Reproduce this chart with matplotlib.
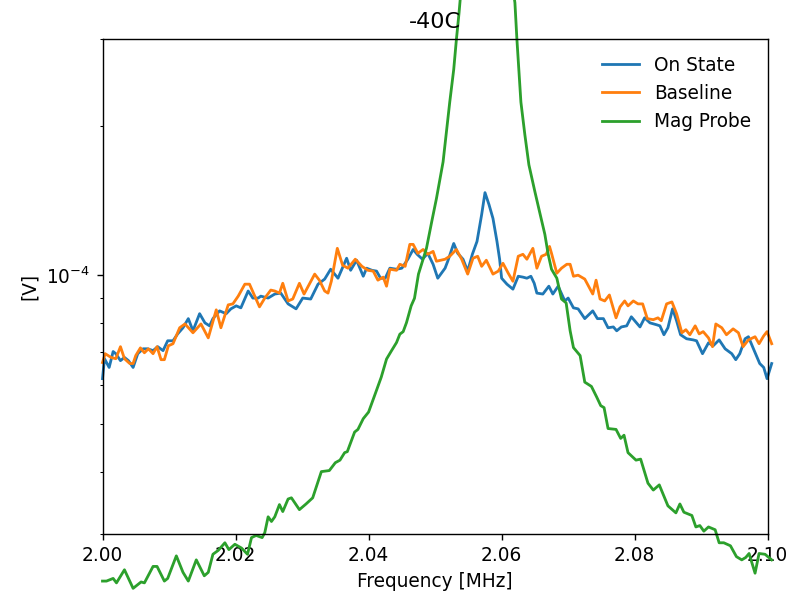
import matplotlib
matplotlib.use('Agg')
import matplotlib.pyplot as plt
import numpy as np
from matplotlib.ticker import NullFormatter

# frequency [MHz] and amplitude (in units of 1e-5 V)
on_freq = [2.0000, 2.0003, 2.0010, 2.0016, 2.0020, 2.0027, 2.0033, 2.0039, 2.0046, 2.0053,
           2.0061, 2.0068, 2.0076, 2.0083, 2.0091, 2.0098, 2.0106, 2.0113, 2.0121, 2.0129,
           2.0136, 2.0146, 2.0154, 2.0161, 2.0166, 2.0176, 2.0186, 2.0193, 2.0201, 2.0208,
           2.0219, 2.0226, 2.0234, 2.0238, 2.0249, 2.0259, 2.0268, 2.0279, 2.0291, 2.0301,
           2.0313, 2.0324, 2.0334, 2.0343, 2.0354, 2.0367, 2.0373, 2.0382, 2.0392, 2.0397,
           2.0405, 2.0412, 2.0418, 2.0425, 2.0432, 2.0442, 2.0450, 2.0459, 2.0467, 2.0473,
           2.0481, 2.0489, 2.0497, 2.0504, 2.0515, 2.0519, 2.0528, 2.0534, 2.0542, 2.0549,
           2.0556, 2.0563, 2.0570, 2.0575, 2.0581, 2.0587, 2.0593, 2.0597, 2.0600, 2.0608,
           2.0617, 2.0625, 2.0632, 2.0638, 2.0644, 2.0649, 2.0653, 2.0662, 2.0671, 2.0677,
           2.0685, 2.0695, 2.0700, 2.0708, 2.0715, 2.0725, 2.0737, 2.0744, 2.0753, 2.0760,
           2.0768, 2.0773, 2.0780, 2.0788, 2.0795, 2.0808, 2.0815, 2.0823, 2.0833, 2.0838,
           2.0844, 2.0850, 2.0857, 2.0863, 2.0869, 2.0878, 2.0888, 2.0893, 2.0902, 2.0911,
           2.0918, 2.0927, 2.0936, 2.0946, 2.0952, 2.0958, 2.0966, 2.0971, 2.0978, 2.0988,
           2.0994, 2.0999, 2.1006]
on_vals = [6.18, 6.78, 6.51, 7.01, 6.94, 6.72, 6.82, 6.72, 6.51, 6.94,
           7.10, 7.10, 7.04, 7.17, 7.04, 7.37, 7.37, 7.61, 7.83, 8.17,
           7.72, 8.36, 8.01, 7.90, 8.17, 8.47, 8.36, 8.55, 8.67, 8.59,
           9.29, 8.99, 8.99, 9.07, 8.99, 9.16, 9.20, 8.75, 8.55, 8.99,
           8.95, 9.59, 9.82, 10.28, 9.86, 10.82, 10.23, 10.72, 9.95, 10.33,
           10.23, 10.19, 9.86, 9.86, 10.33, 10.28, 10.33, 10.77, 11.27, 11.02,
           10.77, 11.07, 10.52, 9.86, 10.33, 10.67, 11.59, 11.07, 10.77, 10.19,
           11.02, 11.70, 13.26, 14.68, 13.89, 13.02, 11.70, 10.77, 9.86, 9.59,
           9.37, 9.95, 9.91, 9.86, 9.95, 9.63, 9.20, 9.16, 9.50, 9.16,
           9.50, 8.87, 8.99, 8.59, 8.55, 8.17, 8.47, 8.17, 8.17, 7.83,
           7.86, 7.72, 7.86, 7.90, 8.24, 7.86, 8.20, 8.01, 7.94, 7.90,
           7.58, 7.83, 8.55, 8.09, 7.58, 7.44, 7.40, 7.37, 6.94, 7.30,
           7.20, 7.40, 7.10, 6.94, 6.75, 6.94, 7.44, 7.51, 7.13, 6.63,
           6.51, 6.18, 6.63]

base_freq = [2.0000, 2.0004, 2.0013, 2.0020, 2.0027, 2.0033, 2.0041, 2.0046, 2.0050, 2.0057,
             2.0063, 2.0069, 2.0076, 2.0082, 2.0088, 2.0093, 2.0099, 2.0106, 2.0116, 2.0124,
             2.0136, 2.0148, 2.0159, 2.0171, 2.0178, 2.0189, 2.0196, 2.0204, 2.0214, 2.0221,
             2.0236, 2.0244, 2.0253, 2.0259, 2.0266, 2.0271, 2.0279, 2.0286, 2.0296, 2.0303,
             2.0319, 2.0326, 2.0334, 2.0339, 2.0344, 2.0353, 2.0361, 2.0369, 2.0380, 2.0390,
             2.0399, 2.0407, 2.0414, 2.0422, 2.0427, 2.0432, 2.0442, 2.0447, 2.0455, 2.0462,
             2.0467, 2.0474, 2.0482, 2.0489, 2.0497, 2.0502, 2.0515, 2.0522, 2.0532, 2.0540,
             2.0549, 2.0557, 2.0564, 2.0570, 2.0577, 2.0587, 2.0595, 2.0602, 2.0610, 2.0617,
             2.0625, 2.0632, 2.0638, 2.0647, 2.0653, 2.0660, 2.0667, 2.0672, 2.0675, 2.0683,
             2.0690, 2.0698, 2.0703, 2.0708, 2.0715, 2.0725, 2.0737, 2.0742, 2.0748, 2.0755,
             2.0762, 2.0772, 2.0778, 2.0785, 2.0790, 2.0798, 2.0805, 2.0812, 2.0819, 2.0828,
             2.0835, 2.0840, 2.0848, 2.0856, 2.0863, 2.0871, 2.0877, 2.0883, 2.0891, 2.0897,
             2.0903, 2.0911, 2.0917, 2.0922, 2.0931, 2.0938, 2.0948, 2.0956, 2.0963, 2.0971,
             2.0981, 2.0987, 2.0994, 2.0999, 2.1006]
base_vals = [6.66, 6.94, 6.82, 6.78, 7.17, 6.78, 6.63, 6.63, 6.88, 7.13,
             6.97, 7.10, 6.94, 7.17, 6.75, 6.75, 7.20, 7.27, 7.83, 7.97,
             7.65, 7.97, 7.47, 8.51, 7.83, 8.71, 8.75, 9.07, 9.59, 9.59,
             8.63, 8.99, 9.33, 9.29, 9.20, 9.63, 8.87, 8.95, 9.63, 9.16,
             10.05, 9.77, 9.29, 9.20, 9.72, 11.33, 10.47, 10.33, 10.77, 10.42,
             10.23, 10.19, 9.77, 9.91, 9.50, 10.28, 10.23, 10.52, 10.42, 11.54,
             11.54, 11.07, 11.27, 11.02, 11.17, 10.67, 10.77, 10.92, 11.27, 10.77,
             10.05, 10.82, 10.92, 10.42, 10.72, 10.05, 10.19, 10.57, 10.09, 9.72,
             10.92, 11.02, 10.77, 11.33, 10.33, 10.92, 11.02, 11.43, 11.07, 10.09,
             10.33, 10.52, 10.52, 9.95, 10.00, 9.82, 9.16, 9.77, 8.95, 8.87,
             9.12, 8.20, 8.63, 8.87, 8.67, 8.87, 8.75, 8.75, 8.17, 8.13,
             8.20, 8.09, 8.75, 8.83, 8.36, 7.65, 7.76, 7.58, 7.90, 7.61,
             7.69, 7.47, 7.17, 7.97, 7.83, 7.58, 7.79, 7.65, 7.17, 7.40,
             7.51, 7.27, 7.54, 7.69, 7.27]

mag_freq = [2.0000, 2.0006, 2.0016, 2.0021, 2.0033, 2.0046, 2.0058, 2.0063, 2.0076, 2.0082,
            2.0093, 2.0098, 2.0111, 2.0121, 2.0129, 2.0141, 2.0153, 2.0159, 2.0166, 2.0174,
            2.0184, 2.0190, 2.0199, 2.0209, 2.0218, 2.0224, 2.0231, 2.0240, 2.0244, 2.0249,
            2.0254, 2.0259, 2.0266, 2.0271, 2.0279, 2.0284, 2.0296, 2.0306, 2.0316, 2.0329,
            2.0341, 2.0350, 2.0357, 2.0364, 2.0368, 2.0379, 2.0384, 2.0392, 2.0400, 2.0409,
            2.0419, 2.0427, 2.0434, 2.0442, 2.0447, 2.0452, 2.0457, 2.0464, 2.0469, 2.0475,
            2.0487, 2.0495, 2.0502, 2.0512, 2.0522, 2.0528, 2.0532, 2.0536, 2.0545, 2.0560,
            2.0578, 2.0597, 2.0612, 2.0620, 2.0623, 2.0629, 2.0635, 2.0641, 2.0650, 2.0658,
            2.0665, 2.0670, 2.0675, 2.0683, 2.0690, 2.0697, 2.0703, 2.0708, 2.0718, 2.0725,
            2.0735, 2.0743, 2.0749, 2.0754, 2.0760, 2.0772, 2.0779, 2.0784, 2.0790, 2.0802,
            2.0809, 2.0820, 2.0828, 2.0837, 2.0850, 2.0862, 2.0868, 2.0874, 2.0886, 2.0892,
            2.0898, 2.0904, 2.0911, 2.0921, 2.0927, 2.0934, 2.0944, 2.0953, 2.0961, 2.0967,
            2.0972, 2.0981, 2.0987, 2.0996, 2.1006]
mag_vals = [2.41, 2.41, 2.44, 2.39, 2.54, 2.33, 2.40, 2.39, 2.58, 2.58,
            2.41, 2.44, 2.71, 2.51, 2.41, 2.66, 2.47, 2.51, 2.73, 2.78,
            2.88, 2.79, 2.86, 2.81, 2.73, 2.95, 2.98, 2.95, 3.02, 3.25,
            3.18, 3.25, 3.44, 3.33, 3.53, 3.55, 3.36, 3.45, 3.55, 4.01,
            4.03, 4.18, 4.23, 4.38, 4.40, 4.82, 4.88, 5.13, 5.29, 5.71,
            6.22, 6.77, 7.02, 7.31, 7.60, 7.69, 8.02, 8.67, 8.98, 10.05,
            11.33, 12.84, 14.28, 16.94, 22.36, 26.04, 29.92, 33.89, 46.8, 59.0,
            67.8, 56.4, 42.7, 35.5, 29.92, 22.36, 19.19, 16.71, 14.75, 13.26,
            12.09, 11.02, 10.28, 9.86, 8.95, 8.79, 7.72, 7.14, 6.88, 6.08,
            5.96, 5.67, 5.45, 5.40, 4.90, 4.88, 4.68, 4.75, 4.38, 4.23,
            4.25, 3.80, 3.68, 3.77, 3.42, 3.31, 3.45, 3.32, 3.27, 3.10,
            3.12, 3.04, 3.10, 3.06, 2.88, 2.88, 2.84, 2.70, 2.66, 2.69,
            2.74, 2.50, 2.74, 2.73, 2.66]

series = [(on_freq, on_vals, 'On State'),
          (base_freq, base_vals, 'Baseline'),
          (mag_freq, mag_vals, 'Mag Probe')]

plt.rcParams['font.size'] = 10.6  # reference text renders a touch larger than stock

dpi = 126
fig = plt.figure(figsize=(806 / dpi, 599 / dpi), dpi=dpi)
ax = fig.add_axes([102.5 / 806, 65 / 599, 665.2 / 806, 495 / 599])

for f, v, name in series:
    ax.plot(f, np.array(v) * 1e-5, label=name, lw=1.6, clip_on=False)  # lines spill outside the axes in the original

ax.set_yscale('log')
ax.set_xlim(2.0, 2.1)
ax.set_ylim(3e-5, 3e-4)
ax.set_xticks([2.00, 2.02, 2.04, 2.06, 2.08, 2.10])
ax.yaxis.set_minor_formatter(NullFormatter())
ax.set_title('-40C')
ax.set_xlabel('Frequency [MHz]')
ax.set_ylabel('[V]')
ax.legend(loc='upper right', frameon=False)

fig.savefig('out.png', dpi=dpi)
